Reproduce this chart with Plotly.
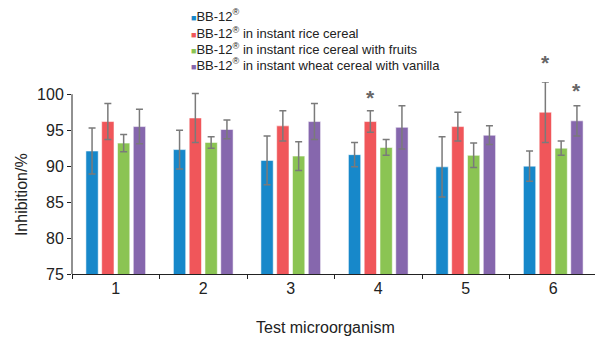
import plotly.graph_objects as go

categories = ["1", "2", "3", "4", "5", "6"]
series_names = [
    "BB-12<sup>®</sup>",
    "BB-12<sup>®</sup> in instant rice cereal",
    "BB-12<sup>®</sup> in instant rice cereal with fruits",
    "BB-12<sup>®</sup> in instant wheat cereal with vanilla",
]
bb12 = [92.1, 92.3, 90.8, 91.6, 89.9, 90.0]
bb12_err = [3.2, 2.7, 3.4, 1.7, 4.2, 2.1]
rice = [96.2, 96.7, 95.6, 96.2, 95.5, 97.5]
rice_err = [2.5, 3.4, 2.1, 1.5, 2.0, 4.2]
fruits = [93.2, 93.3, 91.4, 92.6, 91.5, 92.5]
fruits_err = [1.2, 0.8, 2.0, 1.1, 1.7, 1.0]
vanilla = [95.5, 95.1, 96.2, 95.4, 94.3, 96.3]
vanilla_err = [2.4, 1.3, 2.5, 3.0, 1.3, 2.1]
y_ticks = [75, 80, 85, 90, 95, 100]
# significance markers: (category index, series index, y position)
stars = [(3, 1, 99.6), (5, 1, 104.35), (5, 3, 100.55)]

colors = ["#1788CA", "#F0565A", "#8BC453", "#8667AD"]
values = [bb12, rice, fruits, vanilla]
errors = [bb12_err, rice_err, fruits_err, vanilla_err]

# the page body adds an 8px offset; the figure is sized to fill the rest
OFF = 8
W, H = 603 - OFF, 337 - OFF
Y_RANGE = [75, 101.7]

legend_ids = ["legend", "legend2", "legend3", "legend4"]
legend_rows = [15.7, 33.0, 49.0, 64.5]  # row centres in the window

fig = go.Figure()
for name, vals, errs, col in zip(series_names, values, errors, colors):
    fig.add_trace(go.Bar(
        x=categories, y=vals, name=name, showlegend=False,
        marker=dict(color=col, line=dict(color="rgba(255,255,255,0.55)", width=1)),
        error_y=dict(type="data", array=errs, visible=True, color="#7a7a7a",
                     thickness=1.5, width=3.5),
    ))
for name, col, lid in zip(series_names, colors, legend_ids):
    fig.add_trace(go.Scatter(
        x=[None], y=[None], mode="markers", legend=lid,
        name=f"<span style='color:{col};font-size:9px'>■</span>{name}",
        marker=dict(symbol="square", size=1, color="rgba(0,0,0,0)"),
    ))

bargap = 0.278
slot = (1 - bargap) / 4
for ci, si, yv in stars:
    xpos = ci + (si - 1.5) * slot
    fig.add_annotation(x=xpos, y=(yv - Y_RANGE[0]) / (Y_RANGE[1] - Y_RANGE[0]),
                       xref="x", yref="paper", text="<b>*</b>",
                       showarrow=False, font=dict(size=21, color="#666666"),
                       yanchor="middle")

fig.add_shape(type="line", xref="paper", yref="y", x0=0, x1=0, y0=75, y1=100,
              line=dict(color="#222", width=1))

plot_top = 81.76 - OFF
plot_h = 274 - 81.76
fig.add_annotation(text="Test microorganism", xref="paper", yref="paper",
                   x=(325 - 72) / 525, y=-(328 - 274) / plot_h, showarrow=False,
                   xanchor="center", yanchor="middle",
                   font=dict(size=16, color="#222"))
fig.add_annotation(text="Inhibition/%", xref="paper", yref="paper",
                   x=-(72 - 21) / 525, y=(274 - 195) / plot_h, showarrow=False,
                   textangle=-90, xanchor="center", yanchor="middle",
                   font=dict(size=16, color="#222"))

legend_common = dict(xref="container", yref="container", xanchor="left",
                     yanchor="middle", font=dict(size=13, color="#222"),
                     bgcolor="rgba(0,0,0,0)", itemwidth=30, borderwidth=0)
legends = {}
for lid, row in zip(legend_ids, legend_rows):
    legends[lid] = dict(legend_common, x=(151 - OFF) / W, y=1 - (row - OFF) / H)

fig.update_layout(
    width=W, height=H,
    margin=dict(l=72 - OFF, r=6, t=plot_top, b=337 - 274, autoexpand=False),
    plot_bgcolor="white", paper_bgcolor="white",
    barmode="group", bargap=bargap, bargroupgap=0.22,
    font=dict(family="Liberation Sans, Arial, sans-serif", color="#222"),
    xaxis=dict(type="category", showline=True, linecolor="#222", linewidth=1,
               ticks="outside", tickson="boundaries", ticklen=4, tickcolor="#222",
               tickfont=dict(size=16), showgrid=False, zeroline=False,
               range=[-0.5, 5.5]),
    yaxis=dict(range=Y_RANGE, tickvals=y_ticks, showline=False,
               ticks="outside", ticklen=4, tickcolor="#222", tickfont=dict(size=16),
               showgrid=False, zeroline=False),
    **legends,
)

fig.write_html("out.html")
